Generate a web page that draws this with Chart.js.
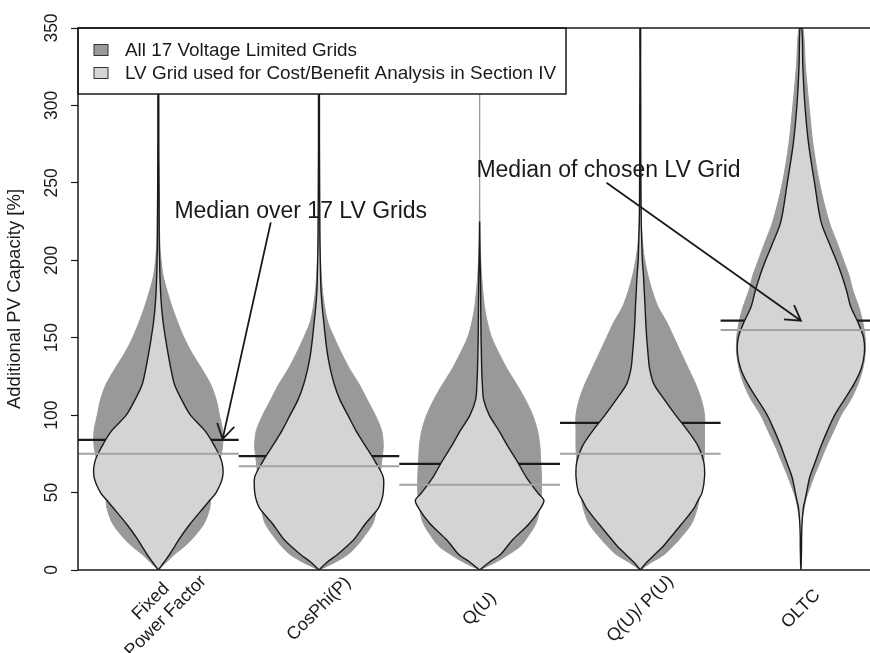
<!DOCTYPE html>
<html lang="en">
<head>
    <meta charset="UTF-8">
    <title>Additional PV Capacity</title>
    <script src="https://cdn.jsdelivr.net/npm/chart.js"></script>
    <style>
        html, body { margin: 0; padding: 0; background: #fff; overflow: hidden; }
    </style>
</head>
<body>

    <canvas id="myChart" width="870" height="653"></canvas>

    <script>
        // categories, placed at x = 1..5
        var categories = [['Fixed', 'Power Factor'], 'CosPhi(P)', 'Q(U)', 'Q(U)/ P(U)', 'OLTC'];
        var positions = [1, 2, 3, 4, 5];
        var yTicks = [0, 50, 100, 150, 200, 250, 300, 350];
        var legendLabels = ['All 17 Voltage Limited Grids', 'LV Grid used for Cost/Benefit Analysis in Section IV'];

        var levels = [0, 5, 10, 15, 20, 30, 40, 45, 50, 60, 70, 80, 90, 100, 110, 120, 130, 140, 150, 160, 170, 180, 190, 200, 210, 225, 250, 275, 300, 325, 350];

        // half widths (in category units) - all 17 grids (dark violins)
        var allFixed = [0, .05, .10, .16, .21, .285, .32, .325, .33, .35, .38, .40, .40, .38, .36, .325, .27, .21, .16, .12, .085, .055, .03, .017, .01, .007, .004, 0, 0, 0, 0];
        var allCosPhi = [0, .10, .18, .23, .27, .335, .36, .365, .37, .38, .39, .40, .39, .35, .30, .25, .19, .14, .095, .055, .035, .022, .014, .01, .007, .005, .003, 0, 0, 0, 0];
        var allQU = [0, .10, .18, .25, .29, .35, .375, .38, .385, .385, .38, .375, .36, .33, .285, .23, .17, .12, .075, .048, .03, .02, .012, .007, .004, .002, .001, .001, .001, .001, .001];
        var allQUPU = [0, .07, .15, .20, .245, .32, .355, .365, .375, .385, .395, .40, .40, .40, .38, .345, .30, .255, .21, .165, .11, .075, .048, .028, .015, .006, 0, 0, 0, 0, 0];
        var allOLTC = [0, 0, 0, 0, 0, .004, .02, .03, .045, .08, .12, .16, .205, .25, .31, .355, .385, .40, .40, .385, .36, .325, .30, .265, .23, .175, .115, .075, .05, .028, .012];

        // half widths - chosen LV grid (light violins)
        var lvFixed = [0, .035, .07, .10, .13, .20, .28, .32, .36, .40, .395, .35, .29, .20, .145, .10, .078, .06, .044, .03, .02, .014, .01, .008, .006, .005, .004, .003, .003, .002, .002];
        var lvCosPhi = [0, .05, .115, .17, .22, .29, .37, .39, .40, .40, .35, .29, .23, .18, .13, .095, .07, .052, .04, .03, .02, .013, .01, .008, .006, .005, .004, .003, .003, .002, .002];
        var lvQU = [0, .06, .13, .17, .21, .31, .38, .40, .36, .29, .235, .175, .12, .06, .025, .017, .013, .011, .009, .008, .007, .006, .005, .003, .001, 0, 0, 0, 0, 0, 0];
        var lvQUPU = [0, .04, .09, .14, .18, .26, .335, .36, .385, .40, .395, .36, .295, .22, .15, .085, .058, .048, .04, .034, .03, .025, .02, .013, .01, .006, .004, .003, .003, .002, .002];
        var lvOLTC = [0, .002, .003, .004, .004, .007, .015, .025, .035, .055, .09, .125, .165, .21, .27, .33, .375, .395, .39, .355, .31, .285, .255, .22, .18, .125, .085, .048, .025, .012, .006];

        var allWidths = [allFixed, allCosPhi, allQU, allQUPU, allOLTC];
        var lvWidths = [lvFixed, lvCosPhi, lvQU, lvQUPU, lvOLTC];

        // medians
        var medianAll = [84, 73.5, 68.5, 95, 161];
        var medianLV = [75, 67, 55, 75, 155];

        // annotations (data units)
        var noteText = ['Median over 17 LV Grids', 'Median of chosen LV Grid'];
        var noteAt = [[1.10, 227], [2.98, 254]];
        var arrowFrom = [[1.70, 224.5], [3.79, 250]];
        var arrowTo = [[1.40, 84.5], [5.00, 161]];

        var DARK = '#999999', LIGHT = '#d4d4d4', INK = '#1a1a1a', MEDGRAY = '#a2a2a2';
        var FONT = "'Liberation Sans', Arial, Helvetica, sans-serif";
        Chart.defaults.font.family = FONT;
        Chart.defaults.color = INK;

        // outline of one violin: up the right side, down the left side
        function violinPoints(pos, widths) {
            var first = widths.findIndex(function (w) { return w > 0; });
            var last = widths.length - 1 - widths.slice().reverse().findIndex(function (w) { return w > 0; });
            var i0 = Math.max(first - 1, 0), i1 = Math.min(last + 1, widths.length - 1);
            var right = [], left = [];
            for (var i = i0; i <= i1; i++) {
                right.push({ x: pos + widths[i], y: levels[i] });
                left.unshift({ x: pos - widths[i], y: levels[i] });
            }
            return right.concat(left);
        }

        var datasets = [];
        positions.forEach(function (pos, i) {
            datasets.push({
                label: legendLabels[0], data: violinPoints(pos, allWidths[i]),
                showLine: true, fill: 'shape', backgroundColor: DARK, borderColor: DARK,
                borderWidth: 1, pointRadius: 0, tension: 0.3, order: 4
            });
            datasets.push({
                label: 'median all', data: [{ x: pos - 0.5, y: medianAll[i] }, { x: pos + 0.5, y: medianAll[i] }],
                showLine: true, borderColor: INK, borderWidth: 2.2, pointRadius: 0, order: 3
            });
            datasets.push({
                label: legendLabels[1], data: violinPoints(pos, lvWidths[i]),
                showLine: true, fill: 'shape', backgroundColor: LIGHT, borderColor: INK,
                borderWidth: 1.4, pointRadius: 0, tension: 0.3, order: 2
            });
            datasets.push({
                label: 'median lv', data: [{ x: pos - 0.5, y: medianLV[i] }, { x: pos + 0.5, y: medianLV[i] }],
                showLine: true, borderColor: MEDGRAY, borderWidth: 2, pointRadius: 0, order: 1
            });
        });

        function arrow(ctx, x0, y0, x1, y1) {
            var a = Math.atan2(y1 - y0, x1 - x0), L = 17, h = 0.54;
            ctx.beginPath();
            ctx.moveTo(x0, y0);
            ctx.lineTo(x1, y1);
            ctx.moveTo(x1 - L * Math.cos(a - h), y1 - L * Math.sin(a - h));
            ctx.lineTo(x1, y1);
            ctx.lineTo(x1 - L * Math.cos(a + h), y1 - L * Math.sin(a + h));
            ctx.stroke();
        }

        // labels, notes, legend box and frame
        var extras = {
            id: 'extras',
            afterDraw: function (chart) {
                var ctx = chart.ctx, ca = chart.chartArea;
                var xs = chart.scales.x, ys = chart.scales.y;
                ctx.save();

                // notes with arrows
                ctx.fillStyle = INK;
                ctx.strokeStyle = INK;
                ctx.lineWidth = 1.8;
                ctx.font = '23px ' + FONT;
                ctx.textAlign = 'left';
                ctx.textBaseline = 'alphabetic';
                noteText.forEach(function (t, k) {
                    ctx.fillText(t, xs.getPixelForValue(noteAt[k][0]), ys.getPixelForValue(noteAt[k][1]));
                    arrow(ctx, xs.getPixelForValue(arrowFrom[k][0]), ys.getPixelForValue(arrowFrom[k][1]),
                        xs.getPixelForValue(arrowTo[k][0]), ys.getPixelForValue(arrowTo[k][1]));
                });

                // legend
                var lx = ca.left, ly = ca.top, lw = 488, lh = 66;
                ctx.fillStyle = '#fff';
                ctx.fillRect(lx, ly, lw, lh);
                ctx.lineWidth = 1.5;
                ctx.strokeRect(lx, ly, lw, lh);
                ctx.font = '18.9px ' + FONT;
                ctx.textBaseline = 'middle';
                legendLabels.forEach(function (t, k) {
                    var cy = ly + 22 + k * 23;
                    ctx.fillStyle = k === 0 ? DARK : LIGHT;
                    ctx.fillRect(lx + 16, cy - 5.5, 14, 11);
                    ctx.lineWidth = 1;
                    ctx.strokeStyle = '#333';
                    ctx.strokeRect(lx + 16, cy - 5.5, 14, 11);
                    ctx.fillStyle = INK;
                    ctx.fillText(t, lx + 47, cy + 1);
                });

                // frame
                ctx.strokeStyle = INK;
                ctx.lineWidth = 1.5;
                ctx.beginPath();
                ctx.moveTo(ca.right, ca.top);
                ctx.lineTo(ca.left, ca.top);
                ctx.lineTo(ca.left, ca.bottom);
                ctx.lineTo(ca.right, ca.bottom);
                ctx.stroke();

                // rotated category labels
                ctx.font = '18px ' + FONT;
                ctx.fillStyle = INK;
                ctx.textAlign = 'center';
                ctx.textBaseline = 'middle';
                positions.forEach(function (pos, i) {
                    var lines = [].concat(categories[i]);
                    ctx.save();
                    ctx.translate(xs.getPixelForValue(pos), ca.bottom + 39);
                    ctx.rotate(-Math.PI / 4);
                    lines.forEach(function (t, k) {
                        ctx.fillText(t, 0, (k - (lines.length - 1) / 2) * 21);
                    });
                    ctx.restore();
                });
                ctx.restore();
            }
        };

        var config = {
            type: 'scatter',
            data: { datasets: datasets },
            options: {
                responsive: false,
                animation: false,
                events: [],
                layout: { padding: { top: 28, left: 0, right: 0, bottom: 0 } },
                plugins: { legend: { display: false }, tooltip: { enabled: false } },
                scales: {
                    x: {
                        type: 'linear', min: 0.5, max: 5.43,
                        ticks: { display: false },
                        grid: { display: false },
                        border: { display: false },
                        afterFit: function (scale) { scale.height = 83; }
                    },
                    y: {
                        min: 0, max: 350,
                        afterBuildTicks: function (scale) {
                            scale.ticks = yTicks.map(function (v) { return { value: v }; });
                        },
                        ticks: { minRotation: 90, maxRotation: 90, crossAlign: 'center', padding: 4, font: { size: 17.5 }, color: INK },
                        grid: { display: true, drawOnChartArea: false, drawTicks: true, tickLength: 7, color: INK, tickWidth: 1.2 },
                        border: { display: false },
                        title: { display: true, text: 'Additional PV Capacity [%]', font: { size: 18.5 }, color: INK, padding: { top: 4, bottom: 0 } },
                        afterFit: function (scale) { scale.width = 78; }
                    }
                }
            },
            plugins: [extras]
        };

        var ctx = document.getElementById('myChart').getContext('2d');
        var chart = new Chart(ctx, config);
    </script>
</body>
</html>
